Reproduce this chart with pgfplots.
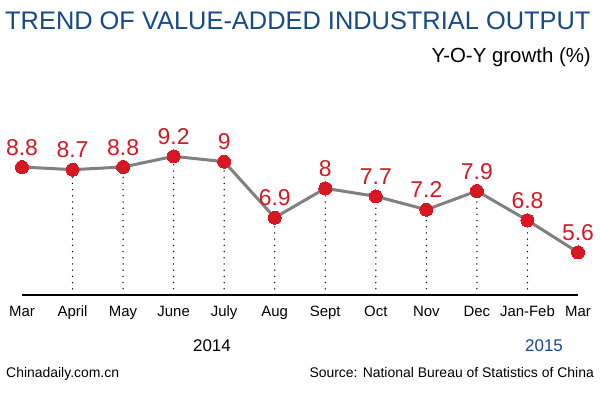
\documentclass[border=0pt]{standalone}
\usepackage{pgfplots}
\pgfplotsset{compat=1.18}
\usepackage{fontspec}
\setmainfont{Liberation Sans}
\definecolor{ptred}{RGB}{214,24,34}
\definecolor{lgray}{RGB}{128,128,128}
\definecolor{tblue}{RGB}{22,72,140}
\begin{document}
\begin{tikzpicture}
\path[fill=white,use as bounding box] (0,0) rectangle (600bp,393bp);
\begin{axis}[
  at={(22bp,98bp)}, anchor=south west,
  scale only axis, width=556bp, height=160bp,
  xmin=0, xmax=11, ymin=4, ymax=10,
  axis y line=none,
  axis x line*=bottom,
  x axis line style={line width=2.6bp, black, -},
  xtick={0,...,11},
  xticklabels={Mar,April,May,June,July,Aug,Sept,Oct,Nov,Dec,Jan-Feb,Mar},
  xticklabel style={font=\fontsize{15}{15}\selectfont, anchor=base, yshift=-22bp},
  major tick length=0pt,
  clip=false,
  /pgf/number format/assume math mode=true,
]
\addplot[ycomb, black, line width=1.5bp, dash pattern=on 0bp off 6.2bp, line cap=round, no marks]
  coordinates {(1,8.7) (2,8.8) (3,9.2) (4,9) (5,6.9) (6,8) (7,7.7) (8,7.2) (9,7.9) (10,6.8)};
\addplot[lgray, line width=3bp, mark=*, mark size=6.5bp,
  mark options={ptred, fill=ptred, line width=0pt},
  nodes near coords,
  every node near coord/.style={text=ptred, font=\fontsize{23}{23}\selectfont, anchor=base, yshift=12bp},
  point meta=y]
  coordinates {(0,8.8) (1,8.7) (2,8.8) (3,9.2) (4,9) (5,6.9) (6,8) (7,7.7) (8,7.2) (9,7.9) (10,6.8) (11,5.6)};
\end{axis}
\node[anchor=base west, text=tblue, font=\fontsize{25.5}{25.5}\selectfont, inner sep=0pt] at (5bp,363bp) {TREND OF VALUE-ADDED INDUSTRIAL OUTPUT};
\node[anchor=base east, font=\fontsize{20.5}{20.5}\selectfont, inner sep=0pt] at (591bp,330bp) {Y-O-Y growth (\%)};
\node[anchor=base, font=\fontsize{17}{17}\selectfont, inner sep=0pt] at (212bp,41bp) {2014};
\node[anchor=base, text=tblue, font=\fontsize{17}{17}\selectfont, inner sep=0pt] at (544bp,41bp) {2015};
\node[anchor=base west, font=\fontsize{14}{14}\selectfont, inner sep=0pt] at (6bp,16bp) {Chinadaily.com.cn};
\node[anchor=base east, font=\fontsize{14}{14}\selectfont, inner sep=0pt] at (594bp,16bp) {Source: National Bureau of Statistics of China};
\end{tikzpicture}
\end{document}
